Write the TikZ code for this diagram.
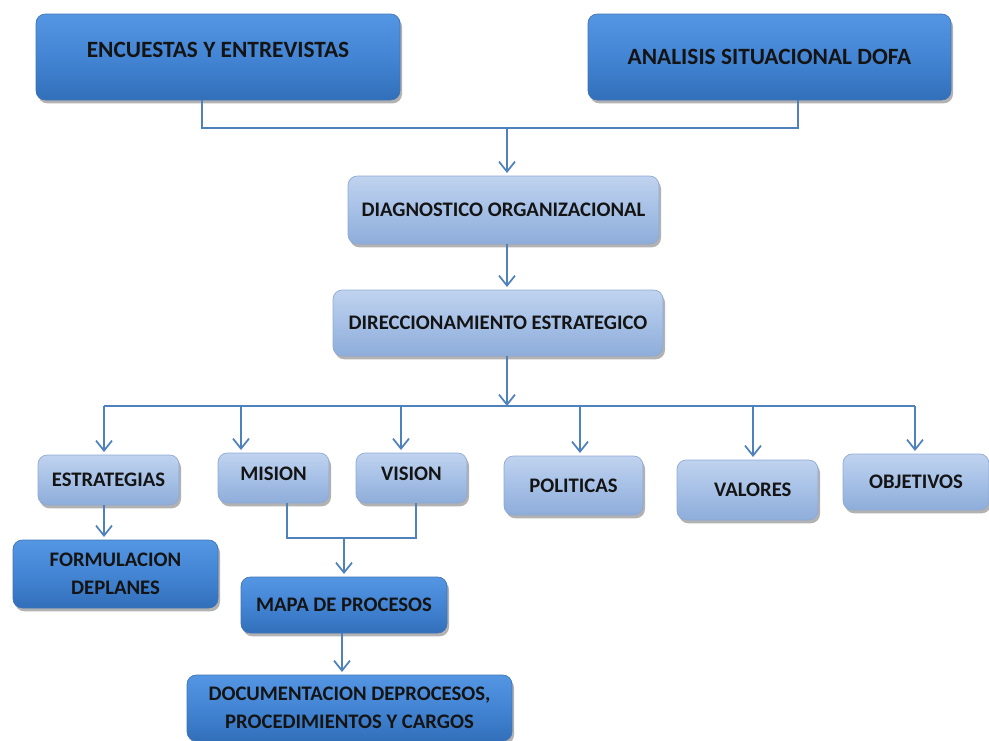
\documentclass[tikz,border=0pt]{standalone}
\usepackage{fontspec}
\setmainfont{Carlito}
\usetikzlibrary{arrows.meta,shadows}
\definecolor{linec}{HTML}{4F81BD}
\definecolor{darktop}{HTML}{5496E2}
\definecolor{darkmid}{HTML}{4385D4}
\definecolor{darkbot}{HTML}{326FBA}
\definecolor{lighttop}{HTML}{C0D3EF}
\definecolor{lightmid}{HTML}{A6C0E6}
\definecolor{lightbot}{HTML}{8EADDA}
\definecolor{darkedge}{HTML}{3F74B4}
\definecolor{lightedge}{HTML}{8EA9D2}
\definecolor{txt}{HTML}{141414}
\begin{document}
\begin{tikzpicture}[x=0.75pt,y=-0.75pt,
 sz/.style 2 args={minimum width=#1*0.75pt, minimum height=#2*0.75pt},
 boxbase/.style={rounded corners=7pt, align=center, inner sep=0pt,
   font=\bfseries\fontsize{15.5}{21}\selectfont, text=txt,
   drop shadow={shadow xshift=1.5pt, shadow yshift=-2.5pt, opacity=0.3, fill=black}},
 darkbox/.style={boxbase, top color=darktop, bottom color=darkbot, middle color=darkmid, draw=darkedge, line width=0.5pt},
 lightbox/.style={boxbase, top color=lighttop, bottom color=lightbot, middle color=lightmid, draw=lightedge, line width=0.5pt},
 bigtext/.style={font=\bfseries\fontsize{17.5}{21}\selectfont},
 conn/.style={draw=linec, line width=1.3pt},
 arr/.style={conn, shorten >=2pt, -{Straight Barb[length=7.5pt,width=12pt,line width=1.3pt]}},
]
\useasboundingbox (0,0) rectangle (989,740);

% boxes
\node[darkbox, bigtext, sz={364}{86}] (enc) at (218,57) {\raisebox{10pt}{ENCUESTAS Y ENTREVISTAS}};
\node[darkbox, bigtext, sz={363}{86}] (dofa) at (769.5,57) {ANALISIS SITUACIONAL DOFA};
\node[lightbox, sz={311}{68}] (diag) at (503.5,210) {DIAGNOSTICO ORGANIZACIONAL};
\node[lightbox, sz={330}{66}] (dir) at (498,323) {\raisebox{-5pt}{DIRECCIONAMIENTO ESTRATEGICO}};
\node[lightbox, sz={141}{50}] (estr) at (108.5,480) {ESTRATEGIAS};
\node[lightbox, sz={111}{50}] (mis) at (273.5,478) {\raisebox{6pt}{MISION}};
\node[lightbox, sz={111}{50}] (vis) at (411.5,478) {\raisebox{6pt}{VISION}};
\node[lightbox, sz={139}{59}] (pol) at (573.5,485.5) {POLITICAS};
\node[lightbox, sz={141}{60}] (val) at (747.5,490) {\hspace*{8pt}\raisebox{-5pt}{VALORES}};
\node[lightbox, sz={146}{56}] (obj) at (916,482) {OBJETIVOS};
\node[darkbox, sz={205}{68}] (form) at (115.5,574) {FORMULACION\\DEPLANES};
\node[darkbox, sz={206}{56}] (mapa) at (344,605) {MAPA DE PROCESOS};
\node[darkbox, sz={325}{66}] (doc) at (349.5,708) {DOCUMENTACION DEPROCESOS,\\PROCEDIMIENTOS Y CARGOS};

% junction coordinates
\coordinate (j1) at (202,128);
\coordinate (j2) at (798,128);
\coordinate (jm) at (507,128);
\coordinate (bus) at (507,406);
\coordinate (be) at (104,406);
\coordinate (bm) at (241,406);
\coordinate (bv) at (401,406);
\coordinate (bp) at (580,406);
\coordinate (bva) at (753,406);
\coordinate (bo) at (915,406);
\coordinate (m1) at (287,538);
\coordinate (m2) at (416,538);
\coordinate (m3) at (344,538);
\coordinate (mp) at (342,606);

% connectors
\draw[conn] (enc.south -| j1) -- (j1) -- (j2) -- (dofa.south -| j2);
\draw[arr] (jm) -- (diag.north -| jm);
\draw[arr] (diag.south -| jm) -- (dir.north -| jm);
\draw[arr, shorten >=0pt] (dir.south -| jm) -- (bus);
\draw[conn] (be) -- (bo);
\draw[arr] (be) -- (estr.north -| be);
\draw[arr] (bm) -- (mis.north -| bm);
\draw[arr] (bv) -- (vis.north -| bv);
\draw[arr] (bp) -- (pol.north -| bp);
\draw[arr] (bva) -- (val.north -| bva);
\draw[arr] (bo) -- (obj.north -| bo);
\draw[arr] (estr.south -| be) -- (form.north -| be);
\draw[conn] (mis.south -| m1) -- (m1) -- (m2) -- (vis.south -| m2);
\draw[arr] (m3) -- (mapa.north -| m3);
\draw[arr] (mapa.south -| mp) -- (doc.north -| mp);
\end{tikzpicture}
\end{document}
